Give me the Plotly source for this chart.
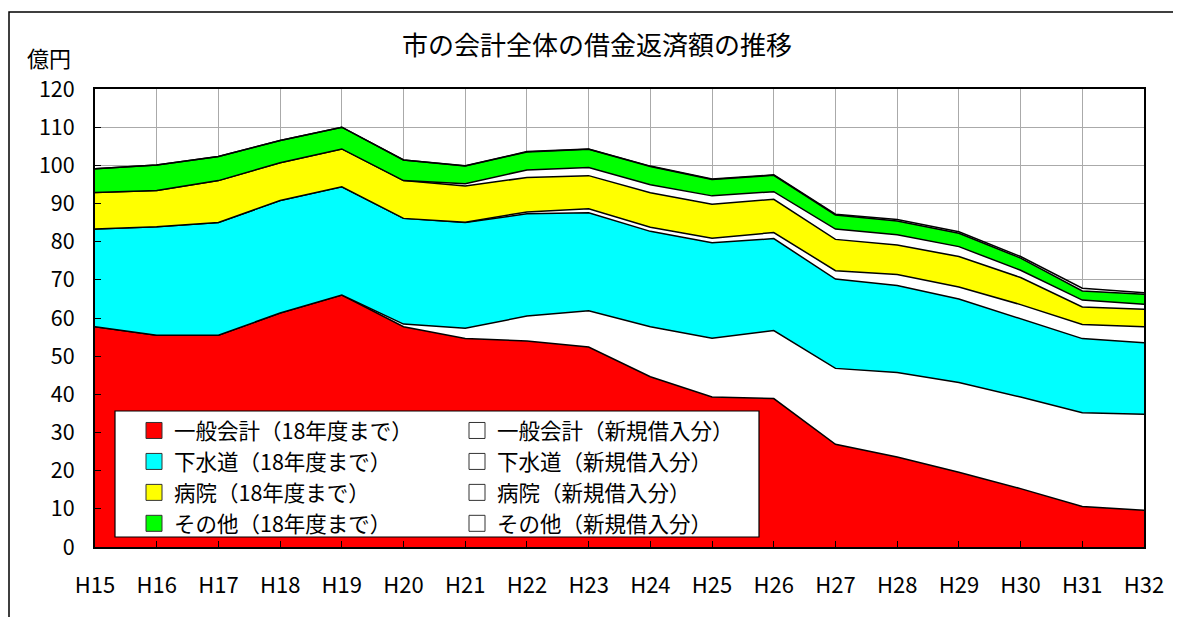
import plotly.graph_objects as go

years = ["H15", "H16", "H17", "H18", "H19", "H20", "H21", "H22", "H23",
         "H24", "H25", "H26", "H27", "H28", "H29", "H30", "H31", "H32"]

general_old = [57.7, 55.5, 55.5, 61.3, 66.0, 57.7, 54.6, 54.0, 52.4, 44.6, 39.3, 38.9, 26.9, 23.6, 19.6, 15.3, 10.6, 9.6]
general_new = [0, 0, 0, 0, 0, 0.7, 2.7, 6.5, 9.5, 13.1, 15.4, 17.8, 19.9, 22.1, 23.5, 24.0, 24.6, 25.2]
sewer_old = [25.6, 28.4, 29.5, 29.5, 28.4, 27.7, 27.7, 26.8, 25.7, 25.0, 25.0, 24.1, 23.4, 22.8, 21.9, 20.6, 19.4, 18.7]
sewer_new = [0, 0, 0, 0, 0, 0, 0.1, 0.5, 1.0, 1.1, 1.2, 1.6, 2.2, 2.9, 3.1, 3.6, 3.7, 4.2]
hospital_old = [9.6, 9.5, 11.0, 9.9, 9.9, 9.9, 9.5, 9.0, 8.7, 9.0, 8.9, 8.7, 8.2, 7.7, 8.0, 7.1, 4.6, 4.6]
hospital_new = [0, 0, 0, 0, 0, 0, 0.6, 2.0, 2.1, 2.1, 2.2, 2.0, 2.7, 2.7, 2.6, 1.9, 1.8, 1.3]
other_old = [6.2, 6.7, 6.3, 5.8, 5.7, 5.4, 4.6, 4.7, 4.8, 4.8, 4.3, 4.3, 3.7, 3.6, 3.5, 3.2, 2.4, 2.6]
other_new = [0, 0, 0, 0, 0, 0, 0.1, 0.1, 0.1, 0.1, 0.1, 0.1, 0.2, 0.4, 0.4, 0.4, 0.7, 0.4]

series = [
    ("一般会計（18年度まで）", general_old, "#FF0000", "legend"),
    ("一般会計（新規借入分）", general_new, "#FFFFFF", "legend2"),
    ("下水道（18年度まで）", sewer_old, "#00FFFF", "legend"),
    ("下水道（新規借入分）", sewer_new, "#FFFFFF", "legend2"),
    ("病院（18年度まで）", hospital_old, "#FFFF00", "legend"),
    ("病院（新規借入分）", hospital_new, "#FFFFFF", "legend2"),
    ("その他（18年度まで）", other_old, "#00FF00", "legend"),
    ("その他（新規借入分）", other_new, "#FFFFFF", "legend2"),
]

FONT = "Noto Sans CJK JP"

fig = go.Figure()
for name, vals, col, lg in series:
    fig.add_trace(go.Scatter(
        x=years, y=vals, name=name, stackgroup="one", mode="lines",
        line=dict(color="black", width=1.5), fillcolor=col,
        showlegend=False, hoverinfo="skip",
    ))
# legend entries (square swatches)
for name, vals, col, lg in series:
    fig.add_trace(go.Scatter(
        x=[None], y=[None], name=name, mode="markers",
        marker=dict(symbol="square", size=16, color=col,
                    line=dict(color="#333333", width=1)),
        legend=lg, showlegend=True,
    ))

# page body has an 8px margin; work in screen pixels and convert
OFF = 8
W, H = 1181 - OFF, 617 - OFF
PL, PR, PT, PB = 95, 1144, 89, 547          # plot area in screen px
L, T = PL - OFF, PT - OFF
R, B = W - (PR - OFF), H - (PB - OFF)
pw, ph = PR - PL, PB - PT

def px_x(x):
    return (x - PL) / pw

def px_y(y):
    return (PB - y) / ph

fig.update_layout(
    width=W, height=H,
    margin=dict(l=L, r=R, t=T, b=B, autoexpand=False),
    paper_bgcolor="white", plot_bgcolor="white",
    font=dict(family=FONT, color="black"),
    title=dict(text="市の会計全体の借金返済額の推移", x=(597 - OFF) / W, y=1 - (46 - OFF) / H,
               xref="container", yref="container", xanchor="center", yanchor="middle",
               font=dict(size=26, family=FONT, color="black")),
    xaxis=dict(type="category", range=[0, len(years) - 1],
               showgrid=True, gridcolor="#AAAAAA", gridwidth=1,
               showline=True, linecolor="black", linewidth=2, mirror=True,
               ticks="inside", ticklen=6, tickcolor="black",
               tickfont=dict(size=22, family=FONT), ticklabelstandoff=18),
    yaxis=dict(range=[0, 120], dtick=10,
               showgrid=True, gridcolor="#AAAAAA", gridwidth=1,
               showline=True, linecolor="black", linewidth=2, mirror=True,
               ticks="inside", ticklen=6, tickcolor="black",
               tickfont=dict(size=21.5, family=FONT), ticklabelstandoff=14,
               zeroline=False),
    legend=dict(x=px_x(134), y=px_y(410), xanchor="left", yanchor="top",
                bgcolor="rgba(0,0,0,0)", borderwidth=0, traceorder="normal",
                font=dict(size=21.5, family=FONT), itemsizing="trace",
                tracegroupgap=0),
    legend2=dict(x=px_x(457), y=px_y(410), xanchor="left", yanchor="top",
                 bgcolor="rgba(0,0,0,0)", borderwidth=0, traceorder="normal",
                 font=dict(size=21.5, family=FONT), itemsizing="trace",
                 tracegroupgap=0),
    shapes=[
        # legend box
        dict(type="rect", xref="paper", yref="paper",
             x0=px_x(115), x1=px_x(759), y0=px_y(537), y1=px_y(411),
             fillcolor="white", line=dict(color="black", width=1.2), layer="above"),
        # outer chart frame
        dict(type="rect", xref="paper", yref="paper",
             x0=px_x(OFF + 1), x1=px_x(1177), y0=px_y(640), y1=px_y(12),
             fillcolor="rgba(0,0,0,0)", line=dict(color="black", width=1.5), layer="above"),
    ],
    annotations=[
        dict(text="億円", xref="paper", yref="paper", x=px_x(49), y=px_y(57),
             xanchor="center", yanchor="middle", showarrow=False,
             font=dict(size=22, family=FONT, color="black")),
    ],
)

fig.write_html("out.html")
